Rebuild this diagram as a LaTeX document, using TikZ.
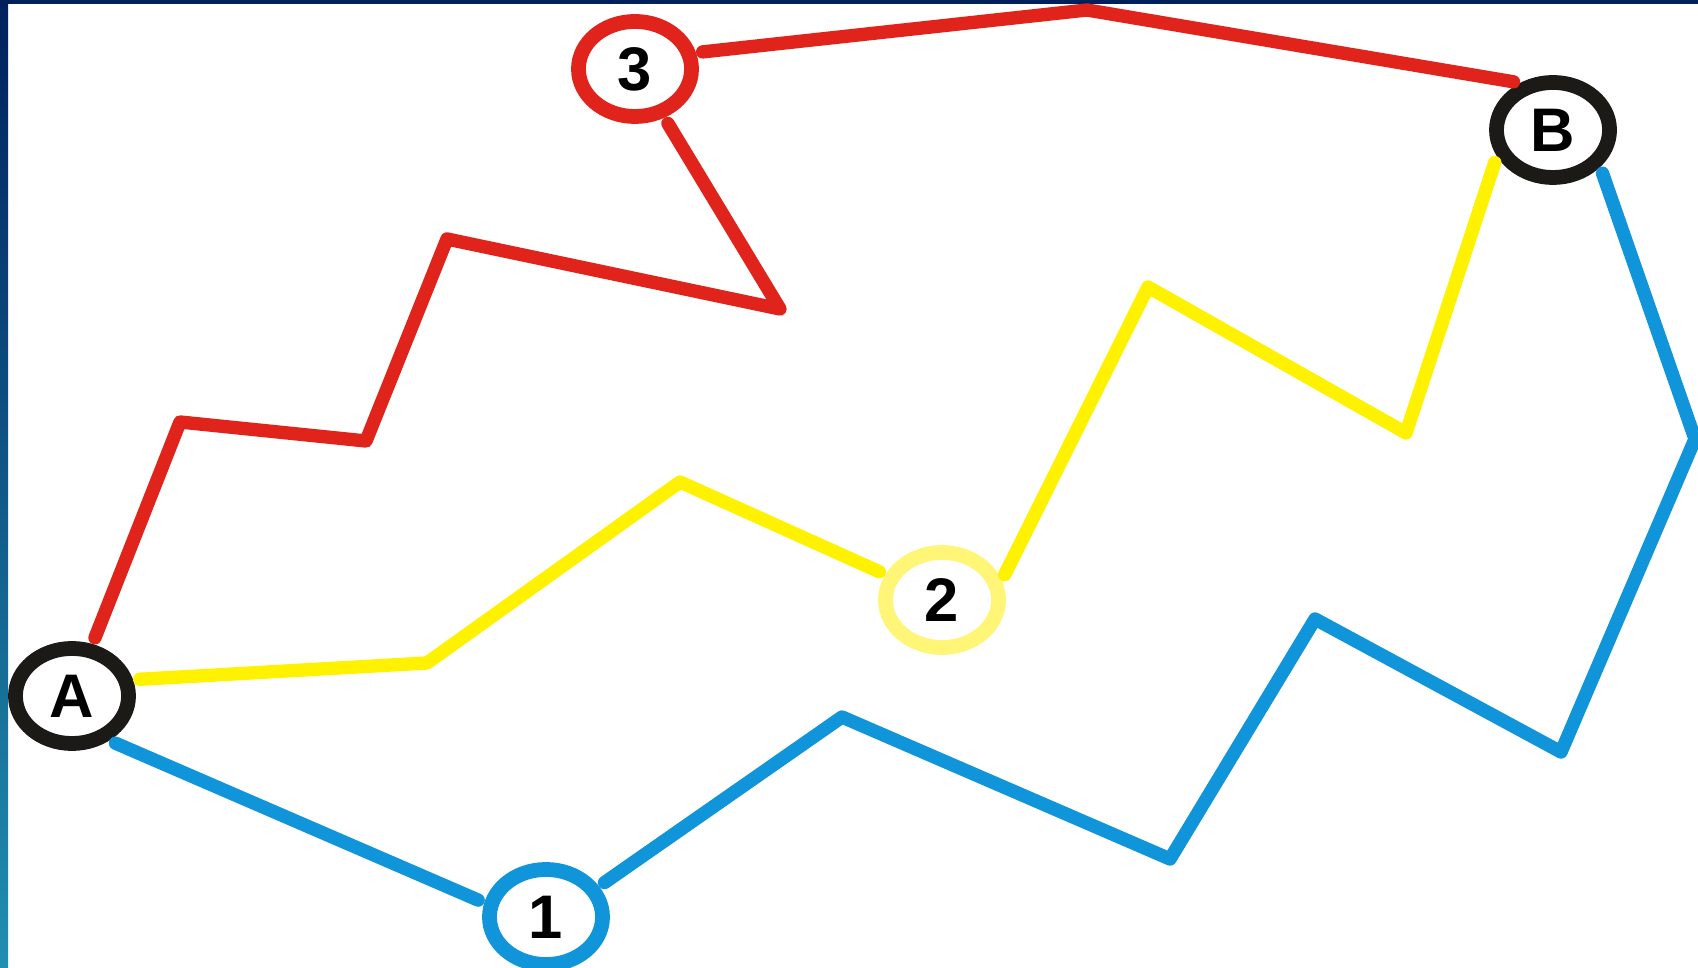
\documentclass[tikz,border=0pt]{standalone}
\usepackage{fontspec}
\setmainfont{Liberation Sans}
\usetikzlibrary{shapes.geometric,positioning}

\definecolor{routered}{RGB}{224,36,28}
\definecolor{routeyellow}{RGB}{255,242,0}
\definecolor{ringyellow}{RGB}{255,246,120}
\definecolor{routeblue}{RGB}{16,148,218}
\definecolor{ringblack}{RGB}{28,26,23}
\definecolor{framenavy}{RGB}{0,32,92}
\definecolor{frameblue}{RGB}{0,52,155}
\definecolor{frameteal}{RGB}{32,144,176}

\begin{document}
\begin{tikzpicture}[
  x=0.01cm, y=-0.01cm,
  ring/.style={ellipse, draw=#1, line width=4.2pt, fill=white,
               minimum width=1.13cm, minimum height=0.95cm, inner sep=0pt,
               font=\fontsize{17.5}{20}\selectfont\bfseries},
  route/.style={draw=#1, line width=3.8pt, line cap=round, line join=round,
                shorten <=1.9pt, shorten >=1.9pt}
]
\useasboundingbox (0,0) rectangle (1698,968);
\fill[white] (0,0) rectangle (1698,968);
\shade[top color=framenavy, middle color=frameblue, bottom color=frameteal] (0,0) rectangle (8,968);
\fill[framenavy] (0,0) rectangle (1698,4);

\node[ring=ringblack] (A) at (72,696) {A};
\node[ring=ringblack] (B) at (1553,130) {B};
\node[ring=routeblue] (p1) at (546,917) {1};
\node[ring=ringyellow] (p2) at (942,600) {2};
\node[ring=routered] (p3) at (635,69) {3};

\coordinate (r1) at (180,422);
\coordinate (r2) at (366,441);
\coordinate (r3) at (447,239);
\coordinate (r4) at (780,309);
\coordinate (r5) at (1087,10);

\coordinate (y1) at (427,663);
\coordinate (y2) at (680,482);
\coordinate (y3) at (1148,287);
\coordinate (y4) at (1406,433);

\coordinate (b1) at (842,717);
\coordinate (b2) at (1170,859);
\coordinate (b3) at (1315,619);
\coordinate (b4) at (1561,752);
\coordinate (b5) at (1695,439);

\draw[route=routered] (A) -- (r1) -- (r2) -- (r3) -- (r4) -- (p3);
\draw[route=routered] (p3.15) -- (r5) -- (B.125);
\draw[route=routeyellow] (A.15) -- (y1) -- (y2) -- (p2);
\draw[route=routeyellow] (p2.18) -- (y3) -- (y4) -- (B.205);
\draw[route=routeblue] (A.310) -- (p1.167);
\draw[route=routeblue] (p1.30) -- (b1) -- (b2) -- (b3) -- (b4) -- (b5) -- (B.322);
\end{tikzpicture}
\end{document}
